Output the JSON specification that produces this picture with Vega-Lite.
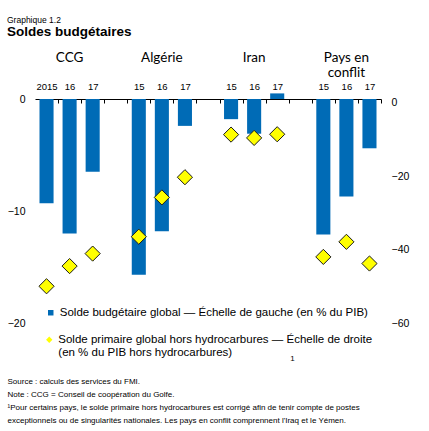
{
  "$schema": "https://vega.github.io/schema/vega-lite/v6.json",
  "autosize": "none",
  "width": 346,
  "height": 224,
  "padding": {"left": 35, "top": 99, "right": 48, "bottom": 108},
  "background": "white",
  "title": {
    "text": "Graphique 1.2",
    "subtitle": "Soldes budgétaires",
    "anchor": "start",
    "frame": "group",
    "dx": -28,
    "offset": 13,
    "font": "Liberation Sans",
    "fontSize": 8.5,
    "fontWeight": "normal",
    "color": "black",
    "subtitleFont": "Liberation Sans",
    "subtitleFontSize": 13.5,
    "subtitleFontWeight": "bold",
    "subtitleColor": "black",
    "subtitlePadding": 0
  },
  "config": {"view": {"stroke": null}, "axis": {"grid": false}},
  "layer": [
    {
      "layer": [
        {
          "data": {"values": [
            {"slot": "CCG|2015", "global": -9.3},
            {"slot": "CCG|16", "global": -12.0},
            {"slot": "CCG|17", "global": -6.5},
            {"slot": "ALG|15", "global": -15.7},
            {"slot": "ALG|16", "global": -11.8},
            {"slot": "ALG|17", "global": -2.4},
            {"slot": "IRN|15", "global": -1.8},
            {"slot": "IRN|16", "global": -3.1},
            {"slot": "IRN|17", "global": 0.5},
            {"slot": "PEC|15", "global": -12.1},
            {"slot": "PEC|16", "global": -8.7},
            {"slot": "PEC|17", "global": -4.4}
          ]},
          "mark": {"type": "bar"},
          "encoding": {
            "x": {
              "field": "slot", "type": "nominal",
              "scale": {"domain": ["CCG|2015","CCG|16","CCG|17","g1","ALG|15","ALG|16","ALG|17","g2","IRN|15","IRN|16","IRN|17","g3","PEC|15","PEC|16","PEC|17"], "paddingInner": 0.39, "paddingOuter": 0.195},
              "axis": {
                "orient": "top",
                "title": ["Source : calculs des services du FMI.", "Note : CCG = Conseil de coopération du Golfe.", "¹Pour certains pays, le solde primaire hors hydrocarbures est corrigé afin de tenir compte de postes", "exceptionnels ou de singularités nationales. Les pays en conflit comprennent l'Iraq et le Yémen."],
                "titleX": -28,
                "titleY": 278,
                "titleAlign": "left",
                "titleAnchor": "start",
                "titleBaseline": "top",
                "titleAngle": 0,
                "titleFont": "Liberation Sans",
                "titleFontSize": 8,
                "titleFontWeight": "normal",
                "titleLineHeight": 13.3,
                "titleColor": "black",
                "labelExpr": "indexof(datum.value, '|') > 0 ? split(datum.value, '|')[1] : ''",
                "labelAngle": 0,
                "labelFont": "Liberation Sans",
                "labelFontSize": 9.5,
                "labelColor": "black",
                "labelPadding": 12,
                "tickOffset": 11.5,
                "labelOffset": -11.5,
                "tickSize": -4,
                "tickColor": "black",
                "domainColor": "black"
              }
            },
            "y": {
              "field": "global", "type": "quantitative",
              "scale": {"domain": [-20, 0], "nice": false, "zero": false},
              "axis": {
                "orient": "left",
                "values": [0, -10, -20],
                "domain": false,
                "ticks": false,
                "labelPadding": 10,
                "labelFont": "Liberation Sans",
                "labelFontSize": 10.5,
                "labelColor": "black",
                "title": "1",
                "titleX": 257,
                "titleY": 259,
                "titleAngle": 0,
                "titleFont": "Liberation Sans",
                "titleFontSize": 8,
                "titleFontWeight": "normal",
                "titleAlign": "center",
                "titleBaseline": "middle",
                "titleColor": "black"
              }
            },
            "color": {
              "datum": "Solde budgétaire global — Échelle de gauche (en % du PIB)",
              "scale": {"range": ["#006BB6"]},
              "legend": {
                "orient": "none",
                "legendX": 10,
                "legendY": 208,
                "title": null,
                "padding": 0,
                "symbolType": "square",
                "symbolSize": 30,
                "symbolStrokeWidth": 0,
                "labelFont": "Liberation Sans",
                "labelFontSize": 11.5,
                "labelColor": "black",
                "labelLimit": 420,
                "labelOffset": 3.3
              }
            }
          }
        },
        {
          "data": {"values": [
            {"slot": "CCG|16", "nom": "CCG"},
            {"slot": "ALG|16", "nom": "Algérie"},
            {"slot": "IRN|16", "nom": "Iran"},
            {"slot": "PEC|16", "nom": "Pays en\nconflit"}
          ]},
          "mark": {"type": "text", "font": "Lato", "fontSize": 13.5, "lineBreak": "\n", "lineHeight": 15, "baseline": "middle", "align": "center", "color": "black"},
          "encoding": {
            "x": {
              "field": "slot", "type": "nominal",
              "scale": {"domain": ["CCG|2015","CCG|16","CCG|17","g1","ALG|15","ALG|16","ALG|17","g2","IRN|15","IRN|16","IRN|17","g3","PEC|15","PEC|16","PEC|17"], "paddingInner": 0.39, "paddingOuter": 0.195}
            },
            "y": {"datum": 3.66, "type": "quantitative", "scale": {"domain": [-20, 0], "nice": false, "zero": false}},
            "text": {"field": "nom", "type": "nominal"}
          }
        }
      ]
    },
    {
      "data": {"values": [
        {"slot": "CCG|2015", "primaire": -50.0},
        {"slot": "CCG|16", "primaire": -44.5},
        {"slot": "CCG|17", "primaire": -41.1},
        {"slot": "ALG|15", "primaire": -36.5},
        {"slot": "ALG|16", "primaire": -25.8},
        {"slot": "ALG|17", "primaire": -20.3},
        {"slot": "IRN|15", "primaire": -8.7},
        {"slot": "IRN|16", "primaire": -9.6},
        {"slot": "IRN|17", "primaire": -8.6},
        {"slot": "PEC|15", "primaire": -42.0},
        {"slot": "PEC|16", "primaire": -37.9},
        {"slot": "PEC|17", "primaire": -43.8}
      ]},
      "mark": {"type": "point", "filled": true, "fill": "#FFFF00", "stroke": "#1a1a1a", "strokeWidth": 1, "size": 230, "opacity": 1},
      "encoding": {
        "x": {"field": "slot", "type": "nominal"},
        "y": {
          "field": "primaire", "type": "quantitative",
          "scale": {"domain": [-60, 1], "nice": false, "zero": false},
          "axis": {
            "orient": "right",
            "values": [0, -20, -40, -60],
            "domain": false,
            "ticks": false,
            "labelPadding": 10,
            "labelFont": "Liberation Sans",
            "labelFontSize": 10.5,
            "labelColor": "black",
            "title": null
          }
        },
        "shape": {
          "datum": "Solde primaire global hors hydrocarbures — Échelle de droite",
          "scale": {"range": ["diamond"]},
          "legend": {
            "orient": "none",
            "legendX": 8.5,
            "legendY": 235,
            "title": null,
            "padding": 0,
            "symbolSize": 40,
            "symbolFillColor": "#FFFF00",
            "symbolStrokeColor": "black",
            "symbolStrokeWidth": 1,
            "labelFont": "Liberation Sans",
            "labelFontSize": 11.5,
            "labelColor": "black",
            "labelLimit": 420,
            "labelOffset": 3.3,
            "labelExpr": "['Solde primaire global hors hydrocarbures — Échelle de droite', '(en % du PIB hors hydrocarbures)']",
            "encode": {"labels": {"update": {"dy": {"value": 6.5}, "lineHeight": {"value": 13}}}}
          }
        }
      }
    }
  ],
  "resolve": {"scale": {"y": "independent"}}
}
